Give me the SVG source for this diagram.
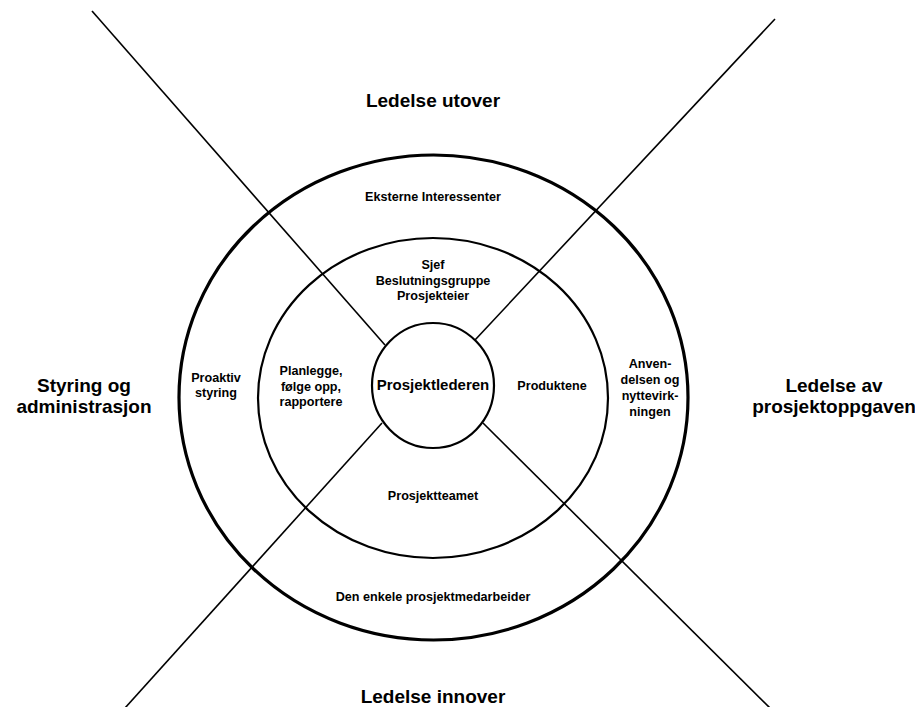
<svg xmlns="http://www.w3.org/2000/svg" width="915" height="707" viewBox="0 0 915 707">
  <style>
    text { font-family: "Liberation Sans", Arial, sans-serif; font-weight: bold; fill: #000; text-anchor: middle; }
    .big { font-size: 19px; }
    .mid { font-size: 15px; }
    .small { font-size: 12.6px; }
    .ring { fill: none; stroke: #000; }
    .axis { stroke: #000; stroke-width: 1.6; fill: none; }
  </style>
  <rect width="915" height="707" fill="#fff"/>

  <!-- diagonal dividers -->
  <g id="connectors">
    <line class="axis" x1="92" y1="11" x2="385" y2="345"/>
    <line class="axis" x1="775" y1="19" x2="475" y2="340"/>
    <line class="axis" x1="382" y1="423" x2="125" y2="708"/>
    <line class="axis" x1="483" y1="423" x2="770" y2="708"/>
  </g>

  <!-- rings -->
  <g id="outer-ring">
    <ellipse class="ring" cx="433.5" cy="397.5" rx="254.5" ry="242.5" stroke-width="3.2"/>
    <text class="small" x="433" y="201">Eksterne Interessenter</text>
    <text class="small" x="216" y="382">Proaktiv</text>
    <text class="small" x="216" y="397">styring</text>
    <text class="small" x="650" y="368">Anven-</text>
    <text class="small" x="650" y="384">delsen og</text>
    <text class="small" x="650" y="400">nyttevirk-</text>
    <text class="small" x="650" y="416">ningen</text>
    <text class="small" x="433" y="601">Den enkele prosjektmedarbeider</text>
  </g>

  <g id="middle-ring">
    <ellipse class="ring" cx="433" cy="398" rx="175" ry="160" stroke-width="2.2"/>
    <text class="small" x="433" y="269">Sjef</text>
    <text class="small" x="433" y="285">Beslutningsgruppe</text>
    <text class="small" x="433" y="300">Prosjekteier</text>
    <text class="small" x="311" y="375">Planlegge,</text>
    <text class="small" x="311" y="391">følge opp,</text>
    <text class="small" x="311" y="406">rapportere</text>
    <text class="small" x="552" y="390">Produktene</text>
    <text class="small" x="433" y="500">Prosjektteamet</text>
  </g>

  <g id="center">
    <ellipse class="ring" cx="433" cy="385.5" rx="61" ry="62.5" stroke-width="2.2"/>
    <text class="mid" x="433" y="390">Prosjektlederen</text>
  </g>

  <!-- quadrant headings -->
  <g id="heading-top"><text class="big" x="433" y="107">Ledelse utover</text></g>
  <g id="heading-left">
    <text class="big" x="84" y="392">Styring og</text>
    <text class="big" x="84" y="413">administrasjon</text>
  </g>
  <g id="heading-right">
    <text class="big" x="834" y="392">Ledelse av</text>
    <text class="big" x="834" y="413">prosjektoppgaven</text>
  </g>
  <g id="heading-bottom"><text class="big" x="433" y="703">Ledelse innover</text></g>
</svg>
